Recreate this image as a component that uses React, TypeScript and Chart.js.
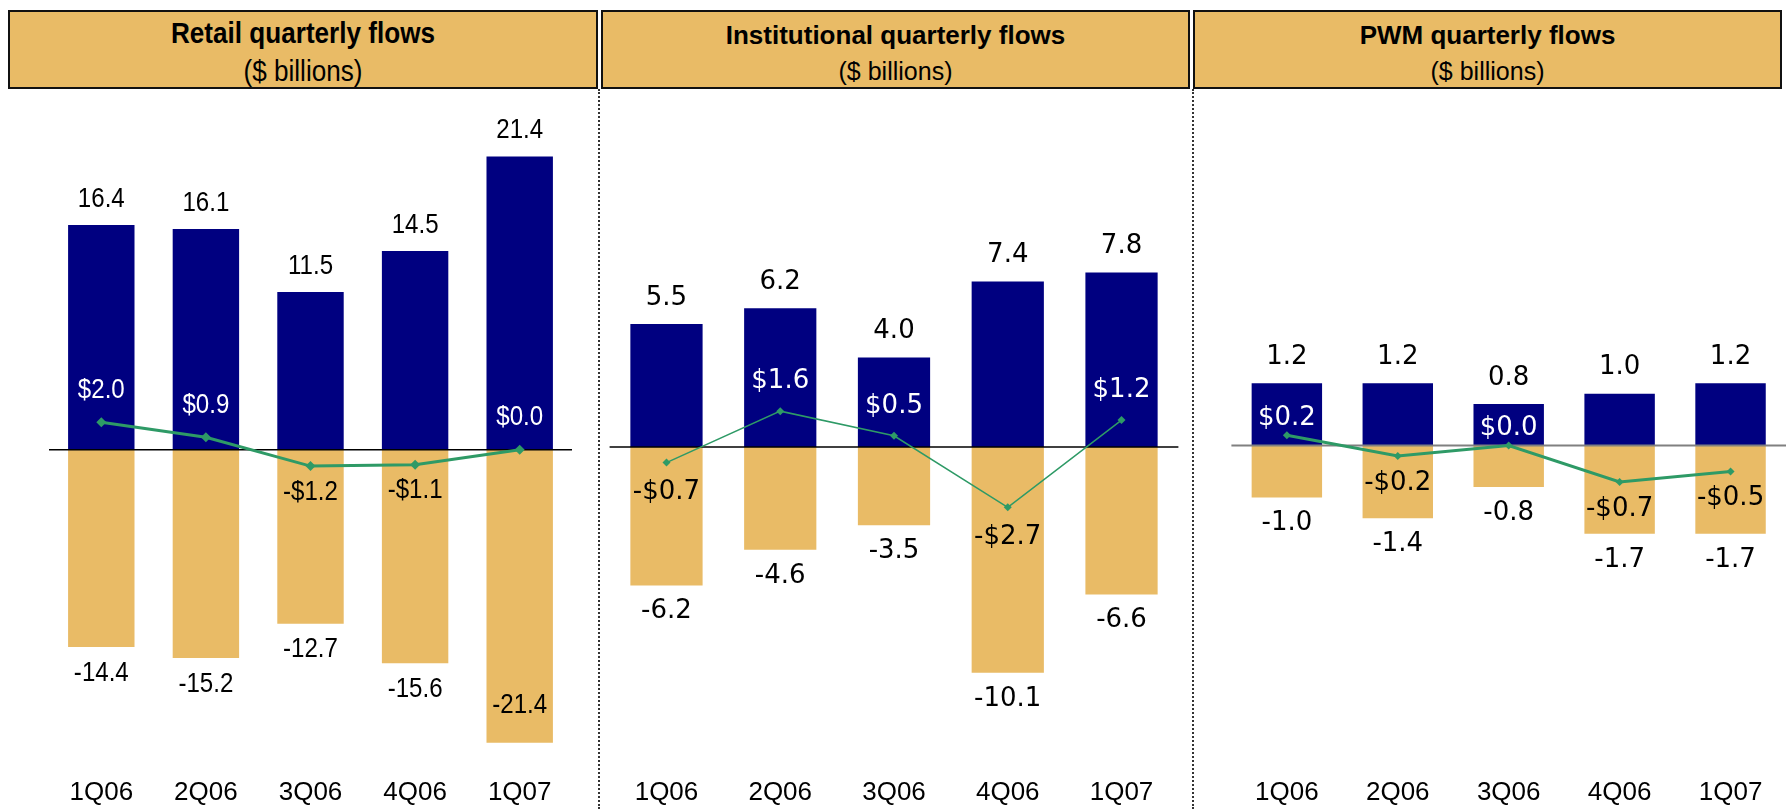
import React, { useEffect, useRef } from 'react';
import { Chart, registerables } from 'chart.js';

Chart.register(...registerables);

// ---------- data ----------
const quarters = ['1Q06', '2Q06', '3Q06', '4Q06', '1Q07'];

const retailInflows = [16.4, 16.1, 11.5, 14.5, 21.4];
const retailOutflows = [-14.4, -15.2, -12.7, -15.6, -21.4];
const retailNet = [2.0, 0.9, -1.2, -1.1, 0.0];

const instInflows = [5.5, 6.2, 4.0, 7.4, 7.8];
const instOutflows = [-6.2, -4.6, -3.5, -10.1, -6.6];
const instNet = [-0.7, 1.6, 0.5, -2.7, 1.2];

const pwmInflows = [1.2, 1.2, 0.8, 1.0, 1.2];
const pwmOutflows = [-1.0, -1.4, -0.8, -1.7, -1.7];
const pwmNet = [0.2, -0.2, 0.0, -0.7, -0.5];

const titles = ['Retail quarterly flows', 'Institutional quarterly flows', 'PWM quarterly flows'];
const subtitle = '($ billions)';

// ---------- styles ----------
const NAVY = '#000080';
const TAN = '#E9BB66';
const GREEN = '#2E9A66';
const SANS = '"Liberation Sans", Arial, sans-serif';
const WIDE = '"DejaVu Sans", Verdana, sans-serif';

const CANVAS_TOP = 90;
const CANVAS_H = 719;

const zeroLinePlugin = {
  id: 'zeroLine',
  afterDatasetDraw(chart: any, args: any, opts: any) {
    if (args.index !== 0) return;
    const { ctx, chartArea } = chart;
    const y = chart.scales.y.getPixelForValue(0);
    ctx.save();
    ctx.strokeStyle = opts.color;
    ctx.lineWidth = opts.width;
    ctx.beginPath();
    ctx.moveTo(chartArea.left, y);
    ctx.lineTo(chartArea.right, y);
    ctx.stroke();
    ctx.restore();
  },
};

const valueLabelPlugin = {
  id: 'valueLabels',
  afterDatasetsDraw(chart: any, _args: any, opts: any) {
    const { ctx, chartArea } = chart;
    const sx = opts.scaleX || 1;
    const put = (txt: string, x: number, y: number, color: string) => {
      ctx.save();
      ctx.font = `${opts.size}px ${opts.family}`;
      ctx.textAlign = 'center';
      ctx.textBaseline = 'middle';
      ctx.fillStyle = color;
      ctx.translate(x, y);
      ctx.scale(sx, 1);
      ctx.fillText(txt, 0, 0);
      ctx.restore();
    };
    chart.data.datasets.forEach((ds: any, di: number) => {
      const meta = chart.getDatasetMeta(di);
      meta.data.forEach((el: any, i: number) => {
        const v = ds.data[i];
        if (meta.type === 'bar') {
          let y = v >= 0 ? el.y - opts.barOffset : el.y + opts.barOffset;
          if (v < 0 && y + opts.size / 2 > chartArea.bottom) y = el.y - opts.barOffset * 1.45;
          put(v.toFixed(1), el.x, y, '#000');
        } else {
          const txt = (v < 0 ? '-$' : '$') + Math.abs(v).toFixed(1);
          if (v >= 0) put(txt, el.x, el.y - opts.lineAbove, '#fff');
          else put(txt, el.x, el.y + opts.lineBelow, '#000');
        }
      });
    });
  },
};

type PanelProps = {
  title: string;
  inflows: number[];
  outflows: number[];
  net: number[];
  canvasLeft: number;
  canvasWidth: number;
  padLeft: number;
  padRight: number;
  yMin: number;
  yMax: number;
  labelFamily: string;
  labelSize: number;
  labelScaleX: number;
  lineAbove: number;
  lineBelow: number;
  lineWidth: number;
  pointRadius: number;
  zeroColor: string;
  zeroWidth: number;
  boxLeft: number;
  boxWidth: number;
  titleSize: number;
  subSize: number;
  headScaleX: number;
  titleTop: number;
  subTop: number;
};

function Panel(p: PanelProps) {
  const ref = useRef<HTMLCanvasElement | null>(null);
  useEffect(() => {
    if (!ref.current) return;
    const chart = new Chart(ref.current, {
      type: 'bar',
      data: {
        labels: quarters,
        datasets: [
          {
            type: 'bar',
            data: p.inflows,
            backgroundColor: NAVY,
            grouped: false,
            categoryPercentage: 0.635,
            barPercentage: 1,
            order: 1,
          } as any,
          {
            type: 'bar',
            data: p.outflows,
            backgroundColor: TAN,
            grouped: false,
            categoryPercentage: 0.635,
            barPercentage: 1,
            order: 1,
          } as any,
          {
            type: 'line',
            data: p.net,
            borderColor: GREEN,
            backgroundColor: GREEN,
            borderWidth: p.lineWidth,
            pointStyle: 'rectRot',
            pointRadius: p.pointRadius,
            pointBackgroundColor: GREEN,
            pointBorderColor: GREEN,
            pointBorderWidth: 0,
            tension: 0,
            order: 0,
          } as any,
        ],
      },
      options: {
        responsive: false,
        animation: false,
        layout: { padding: { left: p.padLeft, right: p.padRight, top: 0, bottom: 0 } },
        plugins: {
          legend: { display: false },
          tooltip: { enabled: false },
          title: { display: false },
          zeroLine: { color: p.zeroColor, width: p.zeroWidth },
          valueLabels: {
            family: p.labelFamily,
            size: p.labelSize,
            scaleX: p.labelScaleX,
            barOffset: 26,
            lineAbove: p.lineAbove,
            lineBelow: p.lineBelow,
          },
        } as any,
        scales: {
          x: {
            grid: { display: false, drawTicks: false },
            border: { display: false },
            ticks: {
              color: '#000',
              font: { family: SANS, size: 26 },
              padding: 12,
              maxRotation: 0,
              autoSkip: false,
            },
            afterFit: (s: any) => {
              s.height = 44;
            },
          },
          y: { display: false, min: p.yMin, max: p.yMax },
        },
      },
      plugins: [zeroLinePlugin, valueLabelPlugin],
    });
    return () => chart.destroy();
  }, []);

  const textStyle = (top: number, size: number, bold: boolean): React.CSSProperties => ({
    position: 'absolute',
    left: p.boxLeft,
    width: p.boxWidth,
    top,
    textAlign: 'center',
    fontFamily: SANS,
    fontWeight: bold ? 'bold' : 'normal',
    fontSize: size,
    lineHeight: `${size}px`,
    color: '#000',
    whiteSpace: 'nowrap',
    transform: `scaleX(${p.headScaleX})`,
  });

  return (
    <>
      <div
        style={{
          position: 'absolute',
          left: p.boxLeft,
          top: 10,
          width: p.boxWidth,
          height: 79,
          boxSizing: 'border-box',
          border: '2px solid #111',
          background: TAN,
        }}
      />
      <div style={textStyle(p.titleTop, p.titleSize, true)}>{p.title}</div>
      <div style={textStyle(p.subTop, p.subSize, false)}>{subtitle}</div>
      <canvas
        ref={ref}
        width={p.canvasWidth}
        height={CANVAS_H}
        style={{ position: 'absolute', left: p.canvasLeft, top: CANVAS_TOP, display: 'block' }}
      />
    </>
  );
}

export default function App() {
  return (
    <div
      style={{
        position: 'absolute',
        left: 0,
        top: 0,
        width: 1790,
        height: 809,
        background: '#fff',
        overflow: 'hidden',
      }}
    >
      <Panel
        title={titles[0]}
        inflows={retailInflows}
        outflows={retailOutflows}
        net={retailNet}
        canvasLeft={0}
        canvasWidth={597}
        padLeft={49}
        padRight={25}
        yMin={-23.02}
        yMax={25.89}
        labelFamily={SANS}
        labelSize={28}
        labelScaleX={0.86}
        lineAbove={32}
        lineBelow={26}
        lineWidth={3}
        pointRadius={5}
        zeroColor="#000"
        zeroWidth={1.5}
        boxLeft={8}
        boxWidth={590}
        titleSize={30}
        subSize={30}
        headScaleX={0.87}
        titleTop={18}
        subTop={55.5}
      />
      <Panel
        title={titles[1]}
        inflows={instInflows}
        outflows={instOutflows}
        net={instNet}
        canvasLeft={600}
        canvasWidth={592}
        padLeft={9.6}
        padRight={13.6}
        yMin={-14.22}
        yMax={15.78}
        labelFamily={WIDE}
        labelSize={26}
        labelScaleX={1}
        lineAbove={30}
        lineBelow={30}
        lineWidth={1.5}
        pointRadius={4}
        zeroColor="#000"
        zeroWidth={1.5}
        boxLeft={601}
        boxWidth={589}
        titleSize={26}
        subSize={25}
        headScaleX={1}
        titleTop={22}
        subTop={58.5}
      />
      <Panel
        title={titles[2]}
        inflows={pwmInflows}
        outflows={pwmOutflows}
        net={pwmNet}
        canvasLeft={1194}
        canvasWidth={596}
        padLeft={37.4}
        padRight={2.4}
        yMin={-6.155}
        yMax={6.776}
        labelFamily={WIDE}
        labelSize={26}
        labelScaleX={1}
        lineAbove={17}
        lineBelow={27}
        lineWidth={3}
        pointRadius={4}
        zeroColor="#808080"
        zeroWidth={2}
        boxLeft={1193}
        boxWidth={589}
        titleSize={26}
        subSize={25}
        headScaleX={1}
        titleTop={22}
        subTop={58.5}
      />
      <div
        style={{
          position: 'absolute',
          left: 598,
          top: 89,
          height: 720,
          width: 0,
          borderLeft: '2px dotted #333',
        }}
      />
      <div
        style={{
          position: 'absolute',
          left: 1192,
          top: 89,
          height: 720,
          width: 0,
          borderLeft: '2px dotted #333',
        }}
      />
    </div>
  );
}
